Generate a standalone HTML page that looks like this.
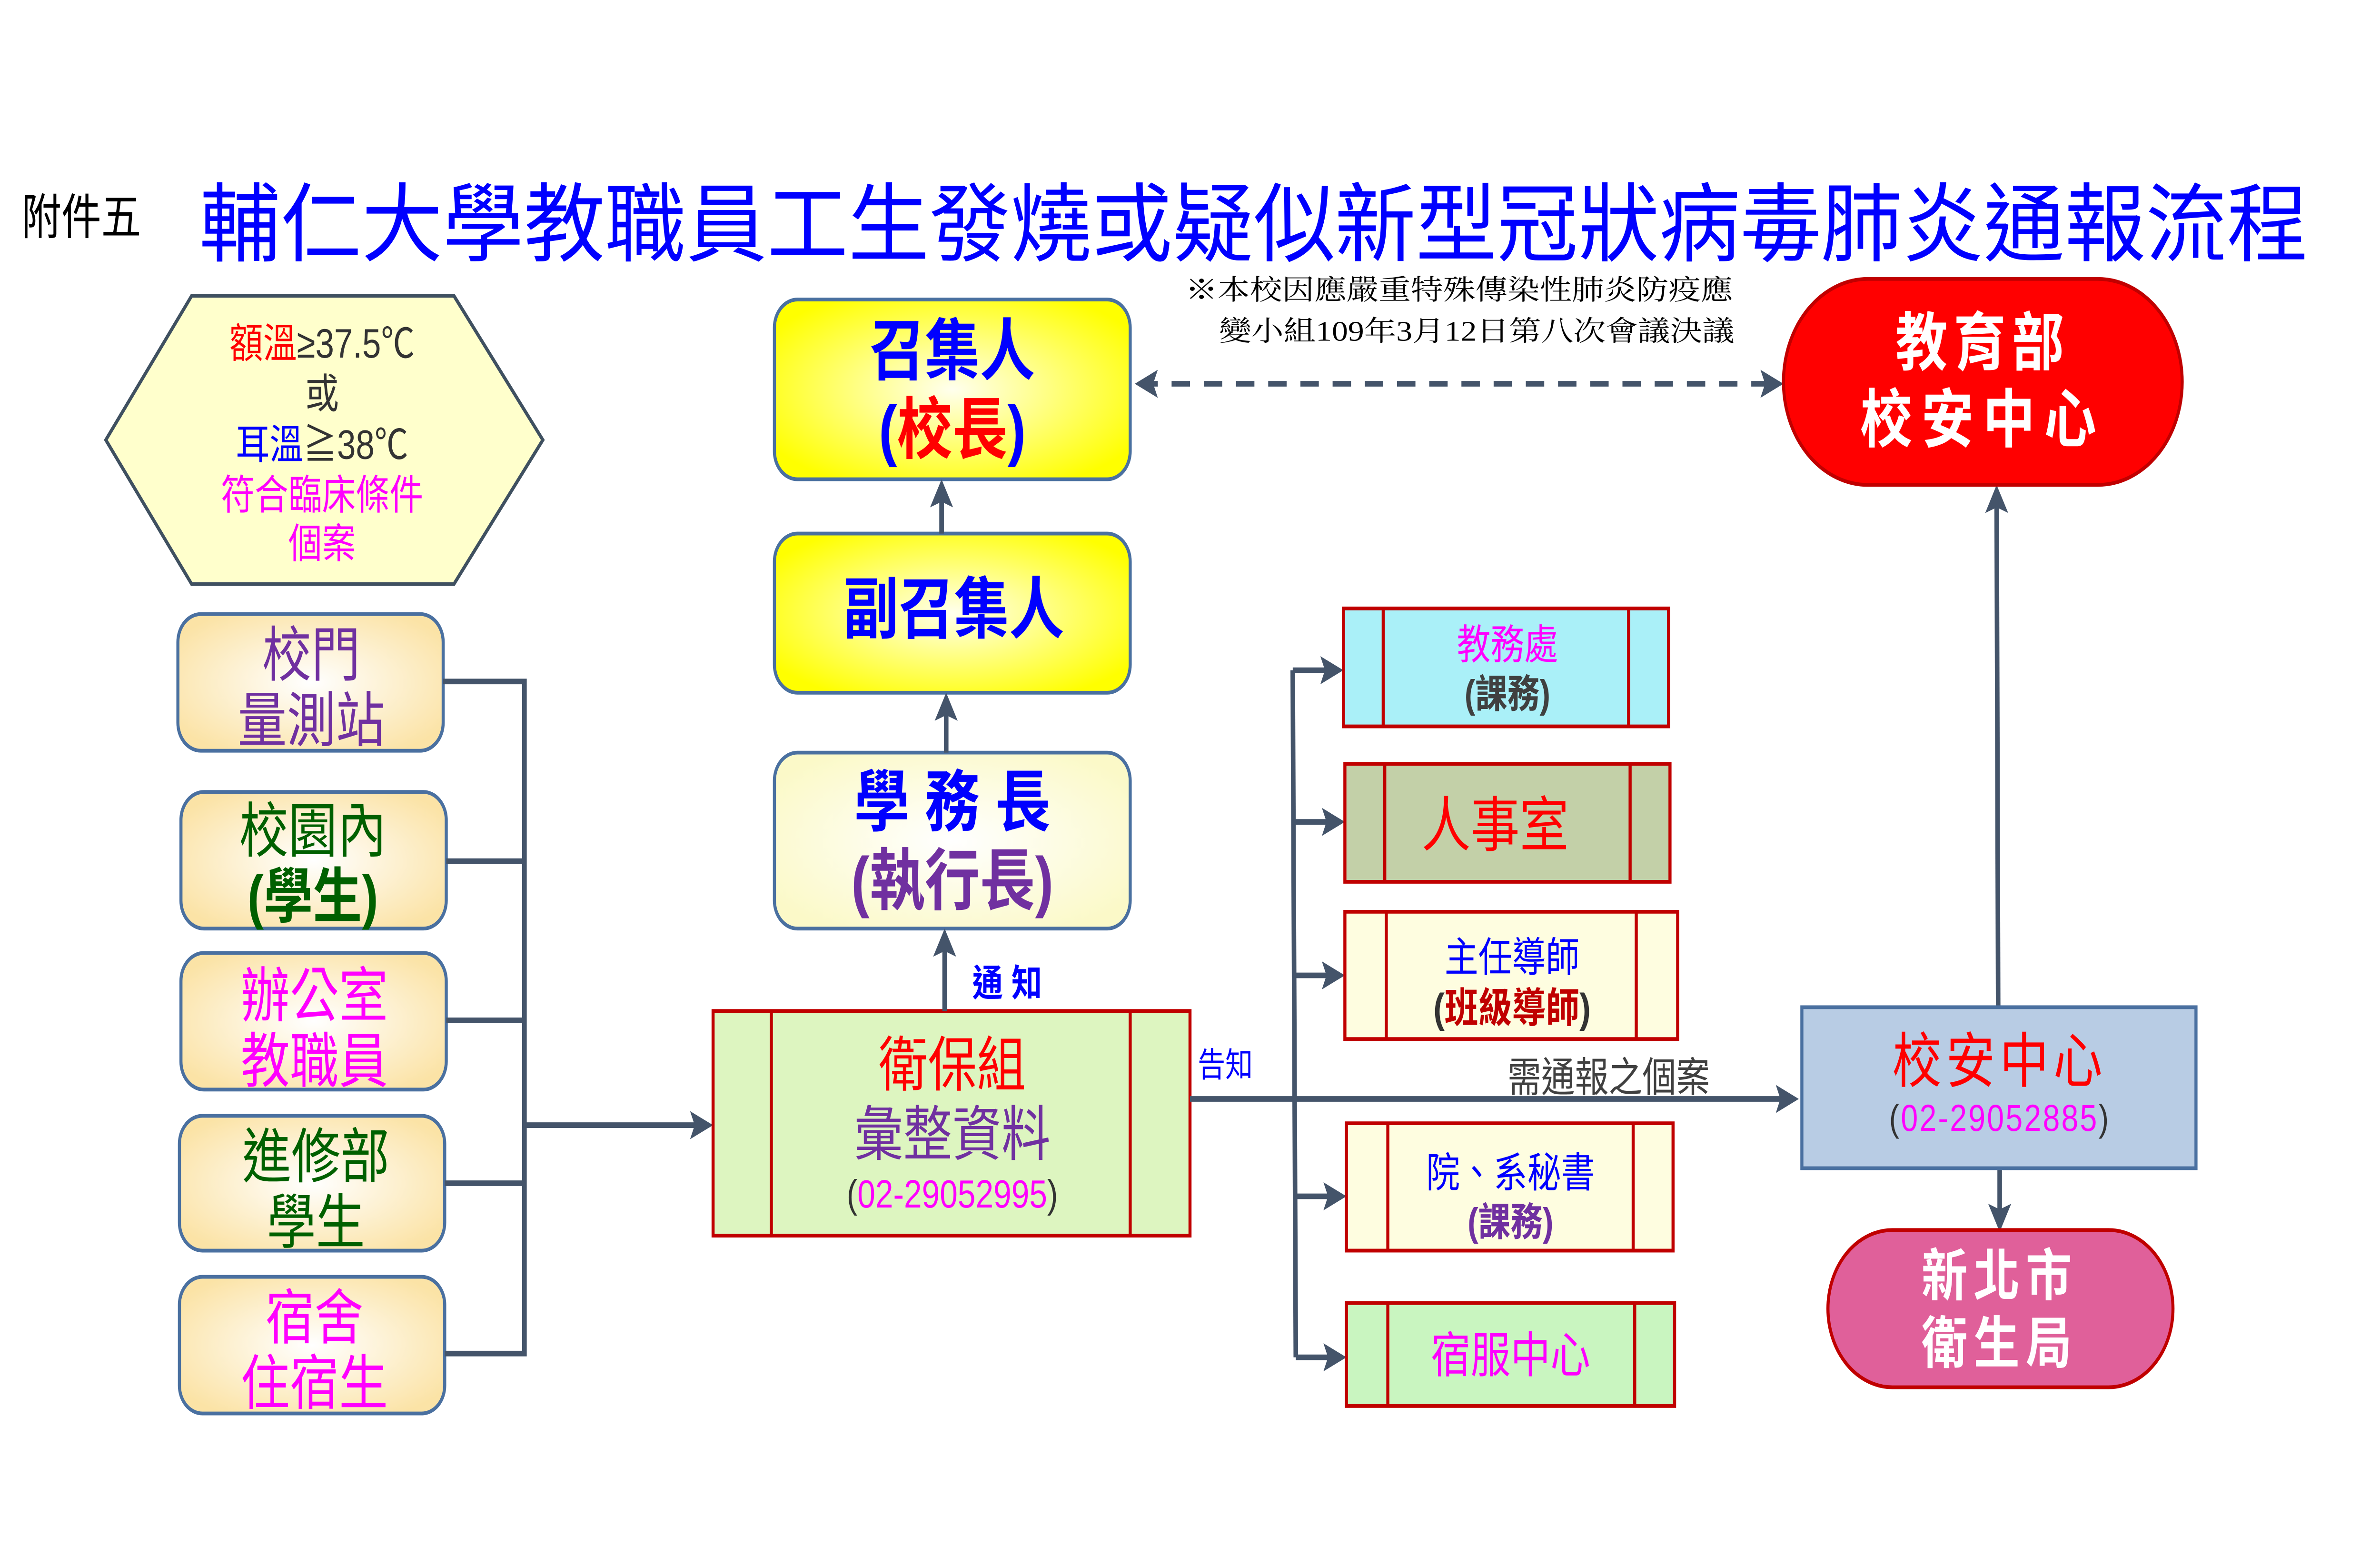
<!DOCTYPE html>
<html><head><meta charset="utf-8"><style>
html,body{margin:0;padding:0;background:#fff;width:100%;height:100%;overflow:hidden;}
svg{display:block;position:fixed;left:0;top:0;width:100vw;height:100vh;}
text{font-family:"Liberation Sans","Noto Sans CJK TC",sans-serif;}
.serif{font-family:"Liberation Serif","Noto Serif CJK SC",serif;}
</style></head><body>
<svg viewBox="0 0 1552 837" preserveAspectRatio="none" xmlns="http://www.w3.org/2000/svg">
<defs>
<radialGradient id="yel" cx="50%" cy="50%" r="60%"><stop offset="0" stop-color="#ffffee"/><stop offset="1" stop-color="#ffff00"/></radialGradient>
<radialGradient id="cream" cx="50%" cy="50%" r="60%"><stop offset="0" stop-color="#ffffff"/><stop offset="1" stop-color="#fbe3a6"/></radialGradient>
<radialGradient id="pale" cx="50%" cy="50%" r="60%"><stop offset="0" stop-color="#ffffff"/><stop offset="1" stop-color="#fbf9c8"/></radialGradient>
<marker id="ah" markerWidth="5" markerHeight="5" refX="4" refY="2.5" orient="auto" markerUnits="strokeWidth"><path d="M0,0 L5,2.5 L0,5 L1,2.5z" fill="#44546a"/></marker>
<marker id="ahs" markerWidth="5" markerHeight="5" refX="1" refY="2.5" orient="auto" markerUnits="strokeWidth"><path d="M5,0 L0,2.5 L5,5 L4,2.5z" fill="#44546a"/></marker>
</defs>

<text x="14" y="125" font-size="26" fill="#000">附件五</text>
<text x="130" y="136" font-size="46" fill="#0000ff" textLength="1375" lengthAdjust="spacingAndGlyphs">輔仁大學教職員工生發燒或疑似新型冠狀病毒肺炎通報流程</text>
<text class="serif" x="773" y="160" font-size="15" fill="#000" textLength="357" lengthAdjust="spacingAndGlyphs">※本校因應嚴重特殊傳染性肺炎防疫應</text>
<text class="serif" x="795" y="182" font-size="15" fill="#000" textLength="336" lengthAdjust="spacingAndGlyphs">變小組109年3月12日第八次會議決議</text>

<polygon points="69,235 125,158 296,158 354,235 296,312 125,312" fill="#ffffcc" stroke="#3f5060" stroke-width="2"/>
<text x="210" y="191" font-size="22" text-anchor="middle"><tspan fill="#ff0000">額溫</tspan><tspan fill="#333">≥37.5℃</tspan></text>
<text x="210" y="218" font-size="22" text-anchor="middle" fill="#333">或</text>
<text x="210" y="245" font-size="22" text-anchor="middle"><tspan fill="#0000ff">耳溫</tspan><tspan fill="#333">≧38℃</tspan></text>
<text x="210" y="272" font-size="22" text-anchor="middle" fill="#ff00ff">符合臨床條件</text>
<text x="210" y="298" font-size="22" text-anchor="middle" fill="#ff00ff">個案</text>

<g stroke="#4a70a0" stroke-width="2" fill="url(#cream)">
<rect x="116" y="328" width="173" height="73" rx="15"/>
<rect x="118" y="423" width="173" height="73" rx="15"/>
<rect x="118" y="509" width="173" height="73" rx="15"/>
<rect x="117" y="596" width="173" height="72" rx="15"/>
<rect x="117" y="682" width="173" height="73" rx="15"/>
</g>
<g font-size="32" text-anchor="middle">
<text x="203" y="361" fill="#7030a0">校門</text>
<text x="203" y="396" fill="#7030a0">量測站</text>
<text x="204" y="455" fill="#006000">校園內</text>
<text x="204" y="490" fill="#006000" font-weight="bold">(學生)</text>
<text x="205" y="543" fill="#ff00ff">辦公室</text>
<text x="205" y="578" fill="#ff00ff">教職員</text>
<text x="206" y="629" fill="#006000">進修部</text>
<text x="206" y="664" fill="#006000">學生</text>
<text x="205" y="715" fill="#ff00ff">宿舍</text>
<text x="205" y="750" fill="#ff00ff">住宿生</text>
</g>
<g stroke="#44546a" stroke-width="3" fill="none">
<polyline points="289,364 342,364 342,723 290,723"/>
<line x1="291" y1="460" x2="342" y2="460"/>
<line x1="291" y1="545" x2="342" y2="545"/>
<line x1="290" y1="632" x2="342" y2="632"/>
<line x1="342" y1="601" x2="462" y2="601" marker-end="url(#ah)"/>
</g>

<rect x="505" y="160" width="232" height="96" rx="15" fill="url(#yel)" stroke="#4a70a0" stroke-width="2"/>
<text x="621" y="200" font-size="36" font-weight="bold" fill="#0000ff" text-anchor="middle">召集人</text>
<text x="621" y="242" font-size="36" font-weight="bold" text-anchor="middle"><tspan fill="#0000ff">(</tspan><tspan fill="#ff0000">校長</tspan><tspan fill="#0000ff">)</tspan></text>
<rect x="505" y="285" width="232" height="85" rx="15" fill="url(#yel)" stroke="#4a70a0" stroke-width="2"/>
<text x="622" y="338" font-size="36" font-weight="bold" fill="#0000ff" text-anchor="middle">副召集人</text>
<rect x="505" y="402" width="232" height="94" rx="15" fill="url(#pale)" stroke="#4a70a0" stroke-width="2"/>
<text x="621" y="441" font-size="36" font-weight="bold" fill="#0000ff" text-anchor="middle">學 務 長</text>
<text x="621" y="483" font-size="36" font-weight="bold" fill="#7030a0" text-anchor="middle">(執行長)</text>

<rect x="465" y="540" width="311" height="120" fill="#ddf5c0" stroke="#c00000" stroke-width="2"/>
<line x1="503" y1="540" x2="503" y2="660" stroke="#c00000" stroke-width="2"/>
<line x1="737" y1="540" x2="737" y2="660" stroke="#c00000" stroke-width="2"/>
<text x="621" y="580" font-size="32" fill="#ff0000" text-anchor="middle">衛保組</text>
<text x="621" y="617" font-size="32" fill="#7030a0" text-anchor="middle">彙整資料</text>
<text x="621" y="645" font-size="21" text-anchor="middle"><tspan fill="#333">(</tspan><tspan fill="#ff00ff">02-29052995</tspan><tspan fill="#333">)</tspan></text>
<text x="634" y="532" font-size="20" font-weight="bold" fill="#0000ff">通 知</text>
<text x="781" y="575" font-size="18" fill="#0000ff">告知</text>

<g stroke="#44546a" stroke-width="3" fill="none">
<line x1="616" y1="540" x2="616" y2="499" marker-end="url(#ah)"/>
<line x1="617" y1="402" x2="617" y2="373" marker-end="url(#ah)"/>
<line x1="614" y1="285" x2="614" y2="259" marker-end="url(#ah)"/>
<line x1="743" y1="205" x2="1160" y2="205" stroke-dasharray="12,9" marker-start="url(#ahs)" marker-end="url(#ah)"/>
<line x1="776" y1="587" x2="1170" y2="587" marker-end="url(#ah)"/>
<line x1="843" y1="358" x2="845" y2="725"/>
<line x1="843" y1="358" x2="873" y2="358" marker-end="url(#ah)"/>
<line x1="843" y1="439" x2="874" y2="439" marker-end="url(#ah)"/>
<line x1="844" y1="521" x2="874" y2="521" marker-end="url(#ah)"/>
<line x1="845" y1="639" x2="875" y2="639" marker-end="url(#ah)"/>
<line x1="845" y1="725" x2="875" y2="725" marker-end="url(#ah)"/>
<line x1="1303" y1="538" x2="1302" y2="262" marker-end="url(#ah)"/>
<line x1="1304" y1="624" x2="1304" y2="655" marker-end="url(#ah)"/>
</g>
<text x="983" y="583" font-size="22" fill="#404040">需通報之個案</text>

<g stroke="#c00000" stroke-width="2">
<rect x="876" y="325" width="212" height="63" fill="#aaf0f8"/>
<line x1="902" y1="325" x2="902" y2="388"/><line x1="1062" y1="325" x2="1062" y2="388"/>
<rect x="877" y="408" width="212" height="63" fill="#c3d0a8"/>
<line x1="903" y1="408" x2="903" y2="471"/><line x1="1063" y1="408" x2="1063" y2="471"/>
<rect x="877" y="487" width="217" height="68" fill="#fefde0"/>
<line x1="904" y1="487" x2="904" y2="555"/><line x1="1067" y1="487" x2="1067" y2="555"/>
<rect x="878" y="600" width="213" height="68" fill="#fefde0"/>
<line x1="905" y1="600" x2="905" y2="668"/><line x1="1065" y1="600" x2="1065" y2="668"/>
<rect x="878" y="696" width="214" height="55" fill="#c9f5c0"/>
<line x1="905" y1="696" x2="905" y2="751"/><line x1="1066" y1="696" x2="1066" y2="751"/>
</g>
<g text-anchor="middle">
<text x="983" y="352" font-size="22" fill="#ff00ff">教務處</text>
<text x="983" y="378" font-size="21" fill="#404040" font-weight="bold">(課務)</text>
<text x="975" y="452" font-size="32" fill="#ff0000">人事室</text>
<text x="986" y="519" font-size="22" fill="#0000ff">主任導師</text>
<text x="986" y="546" font-size="22" font-weight="bold"><tspan fill="#333">(</tspan><tspan fill="#c00000">班級導師</tspan><tspan fill="#333">)</tspan></text>
<text x="985" y="634" font-size="22" fill="#0000ff">院、系秘書</text>
<text x="985" y="660" font-size="21" fill="#7030a0" font-weight="bold">(課務)</text>
<text x="985" y="733" font-size="26" fill="#ff00ff">宿服中心</text>
</g>

<rect x="1163" y="149" width="260" height="110" rx="55" fill="#ff0000" stroke="#c00000" stroke-width="2"/>
<text x="1293" y="195" font-size="34" font-weight="bold" fill="#fff" text-anchor="middle" letter-spacing="4">教育部</text>
<text x="1293" y="236" font-size="34" font-weight="bold" fill="#fff" text-anchor="middle" letter-spacing="6">校安中心</text>
<rect x="1175" y="538" width="257" height="86" fill="#b8cce4" stroke="#4a70a0" stroke-width="2"/>
<text x="1304" y="578" font-size="32" fill="#ff0000" text-anchor="middle" letter-spacing="3">校安中心</text>
<text x="1304" y="604" font-size="20" text-anchor="middle" letter-spacing="1"><tspan fill="#333">(</tspan><tspan fill="#ff00ff">02-29052885</tspan><tspan fill="#333">)</tspan></text>
<rect x="1192" y="657" width="225" height="84" rx="42" fill="#e0609a" stroke="#c00000" stroke-width="2"/>
<text x="1304" y="692" font-size="30" font-weight="bold" fill="#fff" text-anchor="middle" letter-spacing="4">新北市</text>
<text x="1304" y="728" font-size="30" font-weight="bold" fill="#fff" text-anchor="middle" letter-spacing="4">衛生局</text>
</svg>
</body></html>
